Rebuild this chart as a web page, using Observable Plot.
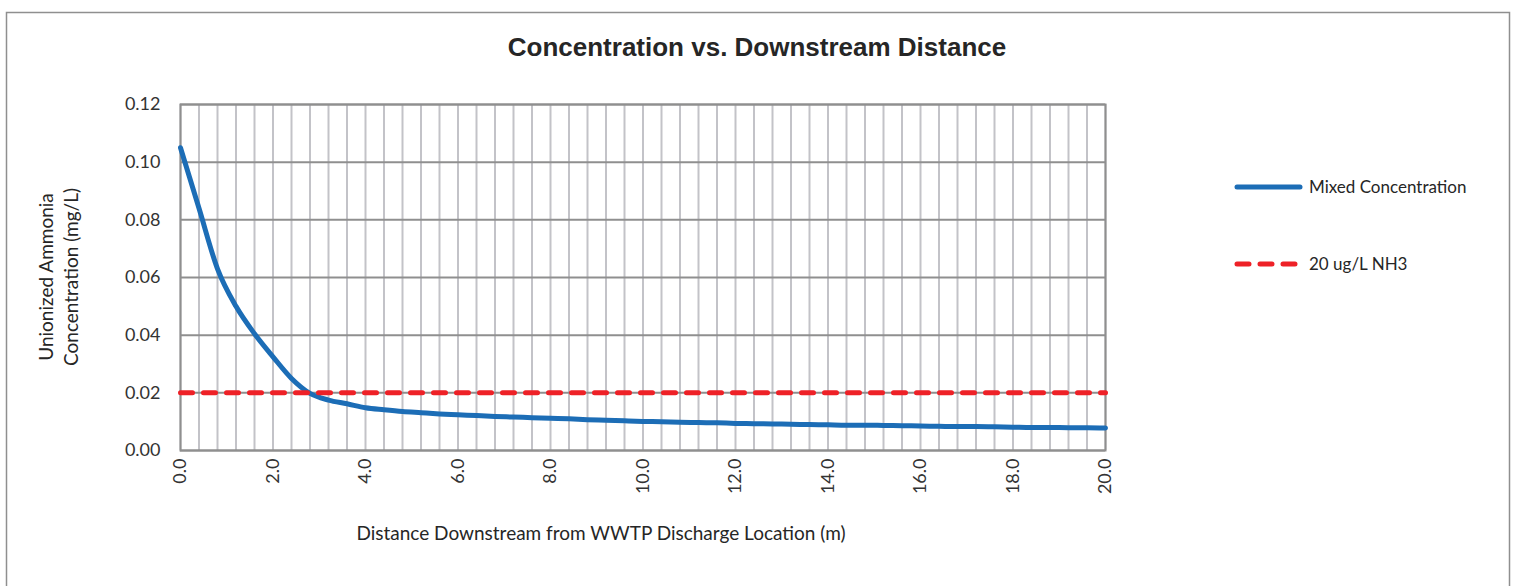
<!DOCTYPE html>
<html>
<head>
<meta charset="utf-8">
<script src="https://cdn.jsdelivr.net/npm/d3@7"></script>
<script src="https://cdn.jsdelivr.net/npm/@observablehq/plot@0.6"></script>
<style>
  html, body { margin: 0; padding: 0; background: #fff; }
  #chart svg { display: block; }
</style>
</head>
<body>
<div id="chart"></div>
<script>
const titleText = "Concentration vs. Downstream Distance";
const xLabelText = "Distance Downstream from WWTP Discharge Location (m)";
const yLabelLines = ["Unionized Ammonia", "Concentration (mg/L)"];
const seriesNames = ["Mixed Concentration", "20 ug/L NH3"];

const distances = [0.0, 0.4, 0.8, 1.2, 1.6, 2.0, 2.4, 2.8, 3.2, 3.6, 4.0, 4.4, 4.8, 5.2, 5.6, 6.0, 6.4, 6.8, 7.2, 7.6,
  8.0, 8.4, 8.8, 9.2, 9.6, 10.0, 10.4, 10.8, 11.2, 11.6, 12.0, 12.4, 12.8, 13.2, 13.6, 14.0, 14.4, 14.8, 15.2, 15.6,
  16.0, 16.4, 16.8, 17.2, 17.6, 18.0, 18.4, 18.8, 19.2, 19.6, 20.0];
const mixedConcentration = [0.105, 0.084, 0.063, 0.050, 0.0405, 0.0325, 0.025, 0.0198, 0.0175, 0.0162, 0.0148, 0.0141,
  0.0135, 0.0131, 0.0127, 0.0124, 0.0121, 0.0118, 0.0116, 0.0114, 0.0112, 0.0110, 0.0107, 0.0105, 0.0103, 0.0101,
  0.0100, 0.0098, 0.0097, 0.0096, 0.0094, 0.0093, 0.0092, 0.0091, 0.0090, 0.0089, 0.0088, 0.0088, 0.0087, 0.0086,
  0.0085, 0.0084, 0.0083, 0.0083, 0.0082, 0.0081, 0.0080, 0.0080, 0.0079, 0.0079, 0.0078];
const thresholdValue = 0.02;

const xTicks = [0, 2, 4, 6, 8, 10, 12, 14, 16, 18, 20];
const yTicks = [0, 0.02, 0.04, 0.06, 0.08, 0.10, 0.12];

const mixedData = distances.map((d, i) => ({x: d, y: mixedConcentration[i]}));
const thresholdData = distances.map(d => ({x: d, y: thresholdValue}));

const W = 1513, H = 586;
const mLeft = 180, mRight = 408, mTop = 104, mBottom = 136;
const blue = "#1c6db6", red = "#ee2127";
const font = "Lato, 'Open Sans', sans-serif";

const plot = Plot.plot({
  width: W,
  height: H,
  marginLeft: mLeft,
  marginRight: mRight,
  marginTop: mTop,
  marginBottom: mBottom,
  style: {fontFamily: font, fontSize: "18px", color: "#333", background: "#fff", overflow: "visible"},
  x: {domain: [0, 20]},
  y: {domain: [0, 0.12]},
  marks: [
    Plot.gridX(distances, {stroke: "#c3c3c8", strokeOpacity: 1, strokeWidth: 2}),
    Plot.gridY(yTicks, {stroke: "#8f8f8f", strokeOpacity: 1, strokeWidth: 2}),
    Plot.frame({stroke: "#8f8f8f", strokeWidth: 2}),
    Plot.axisY(yTicks, {tickSize: 0, tickPadding: 20, tickFormat: d => d.toFixed(2), label: null, fontSize: 18}),
    Plot.axisX(xTicks, {tickSize: 0, tickPadding: 8, tickRotate: -90, tickFormat: d => d.toFixed(1), label: null, fontSize: 18}),
    Plot.line(mixedData, {x: "x", y: "y", stroke: blue, strokeWidth: 5, curve: "monotone-x", strokeLinecap: "round"}),
    Plot.line(thresholdData, {x: "x", y: "y", stroke: red, strokeWidth: 5, strokeDasharray: "12,11", strokeLinecap: "round"})
  ]
});

document.getElementById("chart").appendChild(plot);
const svg = d3.select(plot);

// outer chart border
svg.insert("rect", ":first-child")
  .attr("x", 6.5).attr("y", 12.5).attr("width", 1503).attr("height", 620)
  .attr("fill", "none").attr("stroke", "#8f8f8f").attr("stroke-width", 1.5);

// title
svg.append("text")
  .attr("x", 757).attr("y", 56)
  .attr("text-anchor", "middle")
  .attr("font-family", "'Liberation Sans', Arial, sans-serif")
  .attr("font-weight", "bold").attr("font-size", 26).attr("fill", "#262626")
  .text(titleText);

// x axis label
svg.append("text")
  .attr("x", 601).attr("y", 540)
  .attr("text-anchor", "middle")
  .attr("font-family", font).attr("font-size", 19).attr("fill", "#262626")
  .text(xLabelText);

// y axis label (two lines)
yLabelLines.forEach((t, i) => {
  svg.append("text")
    .attr("transform", `translate(${53 + i * 25},277) rotate(-90)`)
    .attr("text-anchor", "middle")
    .attr("font-family", font).attr("font-size", 19).attr("fill", "#262626")
    .text(t);
});

// legend
const legend = [
  {name: seriesNames[0], color: blue, y: 187, dash: null},
  {name: seriesNames[1], color: red, y: 264, dash: "12,11"}
];
legend.forEach(l => {
  const line = svg.append("line")
    .attr("x1", 1237).attr("x2", 1300).attr("y1", l.y).attr("y2", l.y)
    .attr("stroke", l.color).attr("stroke-width", 5)
    .attr("stroke-linecap", "round");
  if (l.dash) line.attr("stroke-dasharray", l.dash);
  svg.append("text")
    .attr("x", 1309).attr("y", l.y + 6)
    .attr("text-anchor", "start")
    .attr("font-family", font).attr("font-size", 17).attr("fill", "#262626")
    .text(l.name);
});
</script>
</body>
</html>
